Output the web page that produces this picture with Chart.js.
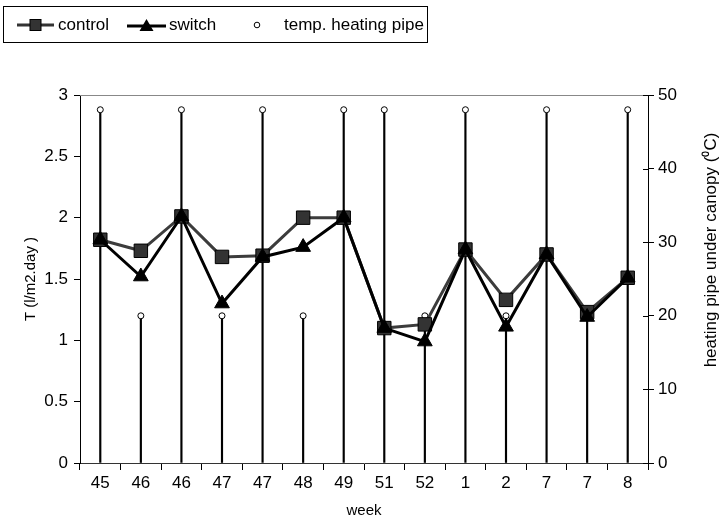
<!DOCTYPE html>
<html>
<head>
<meta charset="utf-8">
<script src="https://cdn.jsdelivr.net/npm/chart.js@4"></script>
<style>
  body { margin: 0; background: #fff; }
  #wrap { position: relative; width: 721px; height: 523px; }
  #legend {
    position: absolute; left: 3px; top: 6px; width: 425px; height: 37px;
    border: 1px solid #000; box-sizing: border-box;
    font: 17px "Liberation Sans", Arial, sans-serif; color: #000;
  }
  #legend .item { position: absolute; top: 0; height: 35px; display: flex; align-items: center; }
  #legend svg { display: block; }
</style>
</head>
<body>
<div id="wrap">
  <canvas id="chart" width="721" height="523"></canvas>
  <div id="legend">
    <div class="item" style="left:13px">
      <svg width="37" height="16"><line x1="0" y1="8" x2="37" y2="8" stroke="#333" stroke-width="3"/><rect x="13" y="2.5" width="11" height="11" fill="#333" stroke="#000" stroke-width="1"/></svg>
      <span style="margin-left:4px">control</span>
    </div>
    <div class="item" style="left:123px">
      <svg width="39" height="16"><line x1="0" y1="9" x2="39" y2="9" stroke="#000" stroke-width="3"/><polygon points="19.5,2 26.5,14 12.5,14" fill="#000"/></svg>
      <span style="margin-left:3px">switch</span>
    </div>
    <div class="item" style="left:246px">
      <svg width="14" height="16"><circle cx="7" cy="8" r="2.8" fill="#fff" stroke="#000" stroke-width="1"/></svg>
      <span style="margin-left:20px">temp. heating pipe</span>
    </div>
  </div>
</div>
<script>
const weeks = ["45", "46", "46", "47", "47", "48", "49", "51", "52", "1", "2", "7", "7", "8"];
const control = [1.82, 1.73, 2.01, 1.68, 1.69, 2.0, 2.0, 1.1, 1.13, 1.74, 1.33, 1.70, 1.23, 1.51];
const switchT = [1.82, 1.52, 2.01, 1.30, 1.68, 1.76, 2.0, 1.1, 0.99, 1.74, 1.11, 1.70, 1.19, 1.51];
const pipeTemp = [48, 20, 48, 20, 48, 20, 48, 48, 20, 48, 20, 48, 20, 48];

const font = "'Liberation Sans', Arial, sans-serif";

// top border line, inner ticks of right axis and its title (reads bottom to top)
const extras = {
  id: "extras",
  afterDraw(chart) {
    const { ctx, chartArea } = chart;
    ctx.save();
    ctx.strokeStyle = "#888";
    ctx.lineWidth = 1;
    ctx.beginPath();
    ctx.moveTo(chartArea.left, chartArea.top + 0.5);
    ctx.lineTo(chartArea.right, chartArea.top + 0.5);
    ctx.stroke();
    const y2 = chart.scales.y2;
    ctx.strokeStyle = "#000";
    y2.ticks.forEach((t) => {
      const py = Math.round(y2.getPixelForValue(t.value)) + 0.5;
      ctx.beginPath();
      ctx.moveTo(chartArea.right - 5, py);
      ctx.lineTo(chartArea.right, py);
      ctx.stroke();
    });
    ctx.translate(711, 250);
    ctx.rotate(-Math.PI / 2);
    ctx.textAlign = "center";
    ctx.textBaseline = "middle";
    ctx.fillStyle = "#000";
    ctx.font = "17px " + font;
    ctx.fillText("heating pipe under canopy (\u2070C)", 0, 0);
    ctx.restore();
  },
};

const ctx = document.getElementById("chart").getContext("2d");
new Chart(ctx, {
  data: {
    labels: weeks,
    datasets: [
      {
        type: "line",
        label: "switch",
        data: switchT,
        yAxisID: "y",
        borderColor: "#000",
        borderWidth: 3,
        pointStyle: "triangle",
        pointRadius: 8.5,
        pointBackgroundColor: "#000",
        pointBorderColor: "#000",
        pointBorderWidth: 1,
        order: 0,
      },
      {
        type: "line",
        label: "control",
        data: control,
        yAxisID: "y",
        borderColor: "#3c3c3c",
        borderWidth: 3,
        pointStyle: "rect",
        pointRadius: 9.5,
        pointBackgroundColor: "#333",
        pointBorderColor: "#000",
        pointBorderWidth: 1,
        order: 1,
      },
      {
        type: "line",
        label: "temp. heating pipe",
        data: pipeTemp,
        yAxisID: "y2",
        showLine: false,
        pointStyle: "circle",
        pointRadius: 3,
        pointBackgroundColor: "#fff",
        pointBorderColor: "#000",
        pointBorderWidth: 1,
        order: 5,
      },
      {
        type: "bar",
        label: "pipe drop",
        data: pipeTemp,
        yAxisID: "y2",
        backgroundColor: "#000",
        barThickness: 1.5,
        order: 10,
      },
    ],
  },
  options: {
    responsive: false,
    animation: false,
    layout: { padding: { top: 95, left: 0, right: 0, bottom: 0 } },
    plugins: {
      legend: { display: false },
      tooltip: { enabled: false },
    },
    scales: {
      x: {
        offset: true,
        grid: { drawOnChartArea: false, offset: true, tickLength: 7, color: "#000" },
        border: { color: "#333" },
        ticks: { color: "#000", font: { family: font, size: 17 }, padding: 3, maxRotation: 0, autoSkip: false },
        title: { display: true, text: "week", color: "#000", font: { family: font, size: 15 }, padding: { top: 0, bottom: 3 } },
        afterFit: (s) => { s.height = 60; },
      },
      y: {
        position: "left",
        min: 0,
        max: 3,
        ticks: { stepSize: 0.5, color: "#000", font: { family: font, size: 17 }, padding: 6, callback: (v) => String(v) },
        grid: { drawOnChartArea: false, tickLength: 6, color: "#000" },
        border: { color: "#000" },
        title: { display: true, text: "T (l/m2.day )", color: "#000", font: { family: font, size: 15 }, padding: { top: 22, bottom: 0 } },
        afterFit: (s) => { s.width = 80; },
      },
      y2: {
        position: "right",
        min: 0,
        max: 50,
        ticks: { stepSize: 10, color: "#000", font: { family: font, size: 17 }, padding: 4, callback: (v) => String(v) },
        grid: { drawOnChartArea: false, tickLength: 6, color: "#000" },
        border: { color: "#000" },
        afterFit: (s) => { s.width = 73; },
      },
    },
  },
  plugins: [extras],
});
</script>
</body>
</html>
